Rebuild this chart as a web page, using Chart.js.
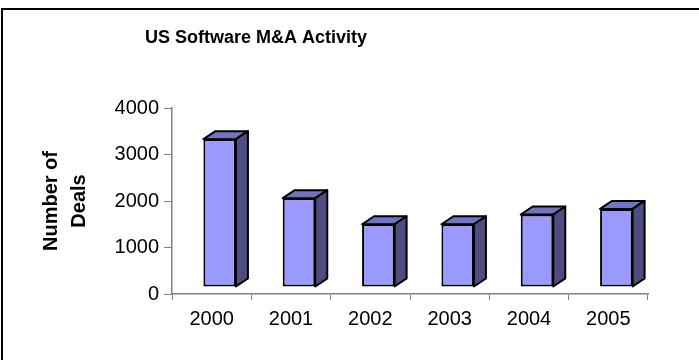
<!DOCTYPE html>
<html>
<head>
<meta charset="utf-8">
<script src="https://cdn.jsdelivr.net/npm/chart.js@4/dist/chart.umd.min.js"></script>
<style>
    html, body { margin: 0; padding: 0; background: #fff; }
    #wrap { width: 699px; height: 360px; position: relative; }
</style>
</head>
<body>
<div id="wrap"><canvas id="deals-chart"></canvas></div>
<script>
const years = ['2000', '2001', '2002', '2003', '2004', '2005'];
const deals = [3180, 1910, 1350, 1350, 1560, 1680];
const y_ticks = [0, 1000, 2000, 3000, 4000];

const chart_title = 'US Software M&A Activity';
const axis_title = ['Number of', 'Deals'];

const font_family = '"Liberation Sans", Arial, sans-serif';

// shift of the front face and depth of the fake 3d box
const shift = { x: 8, y: -7 };
const depth = { x: 12, y: -8 };

const frame_plugin = {
    id: 'frame',
    beforeDraw(chart) {
        const ctx = chart.ctx;
        ctx.save();
        ctx.fillStyle = '#fff';
        ctx.fillRect(0, 0, chart.width, chart.height);
        ctx.strokeStyle = '#000';
        ctx.lineWidth = 2;
        ctx.strokeRect(2, 9, chart.width + 50, chart.height + 50);

        ctx.fillStyle = '#000';
        ctx.font = `bold 18px ${font_family}`;
        ctx.textAlign = 'center';
        ctx.textBaseline = 'middle';
        ctx.fillText(chart_title, 256, 38);
        ctx.restore();
    }
};

const box_plugin = {
    id: 'box3d',
    beforeDatasetsDraw(chart) {
        chart.ctx.save();
        chart.ctx.translate(shift.x, shift.y);
    },
    afterDatasetsDraw(chart) {
        const ctx = chart.ctx;
        const meta = chart.getDatasetMeta(0);

        meta.data.forEach(bar => {
            const { x, y, base, width } = bar.getProps(['x', 'y', 'base', 'width'], true);
            const l = x - width / 2;
            const r = x + width / 2;

            ctx.lineWidth = 2;
            ctx.strokeStyle = '#000';
            ctx.lineJoin = 'round';

            // top face
            ctx.beginPath();
            ctx.moveTo(l, y);
            ctx.lineTo(l + depth.x, y + depth.y);
            ctx.lineTo(r + depth.x, y + depth.y);
            ctx.lineTo(r, y);
            ctx.closePath();
            ctx.fillStyle = '#7373c4';
            ctx.fill();
            ctx.stroke();

            // side face
            ctx.beginPath();
            ctx.moveTo(r, y);
            ctx.lineTo(r + depth.x, y + depth.y);
            ctx.lineTo(r + depth.x, base + depth.y);
            ctx.lineTo(r, base);
            ctx.closePath();
            ctx.fillStyle = '#4d4d80';
            ctx.fill();
            ctx.stroke();
        });

        ctx.restore();
    }
};

(function () {
    const canvas = document.getElementById('deals-chart');

    const data = {
        labels: years,
        datasets: [{
            label: 'deals',
            data: deals,
            backgroundColor: '#9999ff',
            borderColor: '#000',
            borderWidth: 2,
            borderSkipped: false,
            barPercentage: 0.41,
            categoryPercentage: 1,
            clip: false,
        }]
    };

    const config = {
        type: 'bar',
        data: data,
        options: {
            responsive: true,
            maintainAspectRatio: false,
            animation: false,
            events: [],
            layout: {
                padding: { top: 108, right: 51, left: 0, bottom: 0 }
            },
            plugins: {
                legend: { display: false },
                tooltip: { enabled: false },
                title: { display: false },
            },
            scales: {
                x: {
                    afterFit: (scale) => { scale.height = 66; },
                    grid: {
                        offset: true,
                        drawOnChartArea: false,
                        tickLength: 6,
                        color: '#808080',
                        lineWidth: 1,
                    },
                    border: { display: true, color: '#808080', width: 1.5 },
                    ticks: {
                        color: '#000',
                        padding: 7,
                        font: { family: font_family, size: 20 },
                    },
                },
                y: {
                    min: 0,
                    max: 4000,
                    afterFit: (scale) => { scale.width = 172; },
                    afterBuildTicks: (scale) => {
                        scale.ticks = y_ticks.map(v => ({ value: v }));
                    },
                    grid: {
                        drawOnChartArea: false,
                        tickLength: 8,
                        color: '#808080',
                        lineWidth: 1,
                    },
                    border: { display: true, color: '#808080', width: 1.5 },
                    ticks: {
                        color: '#000',
                        padding: 5,
                        font: { family: font_family, size: 20 },
                        callback: (v) => String(v),
                    },
                    title: {
                        display: true,
                        text: axis_title,
                        color: '#000',
                        padding: { top: 37, bottom: 0 },
                        font: { family: font_family, size: 20, weight: 'bold', lineHeight: 1.4 },
                    },
                },
            },
        },
        plugins: [frame_plugin, box_plugin],
    };

    new Chart(canvas, config);
})();
</script>
</body>
</html>
